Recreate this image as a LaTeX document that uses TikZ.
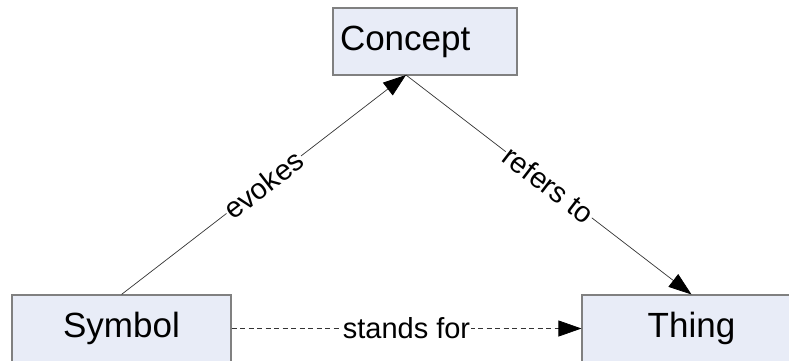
\documentclass[tikz,border=0pt]{standalone}
\usepackage{fontspec}
\setmainfont{Liberation Sans}
\usetikzlibrary{arrows.meta}
\definecolor{boxfill}{RGB}{232,236,247}
\definecolor{boxline}{RGB}{128,128,128}
\begin{document}
\begin{tikzpicture}[x=1pt,y=-1pt,
  box/.style={draw=boxline,line width=1.1pt,fill=boxfill,minimum height=67pt,
    inner sep=0pt,font=\fontsize{35}{40}\selectfont},
  link/.style={draw=black!80,line width=0.7pt,
    -{Triangle[length=23pt,width=16pt,color=black,fill=black]}},
  lbl/.style={fill=white,inner sep=1pt,font=\fontsize{29}{34}\selectfont}]
\clip (0,0) rectangle (789,360);
\node[box,minimum width=184pt,text width=170pt,align=left,inner xsep=7pt] (concept) at (425,41.5) {Concept};
\node[box,minimum width=219pt] (symbol) at (121.5,328.5) {Symbol};
\node[box,minimum width=219pt] (thing) at (691.5,328.5) {Thing};
\coordinate (apex) at (406,75);
% the three relations
\draw[link] (symbol.north) -- node[lbl,sloped]{evokes} (apex);
\draw[link] (apex) -- node[lbl,sloped]{refers to} (thing.north);
\draw[link,dash pattern=on 5pt off 3.5pt] (symbol.east) -- node[lbl]{stands for} (thing.west);
\end{tikzpicture}
\end{document}
